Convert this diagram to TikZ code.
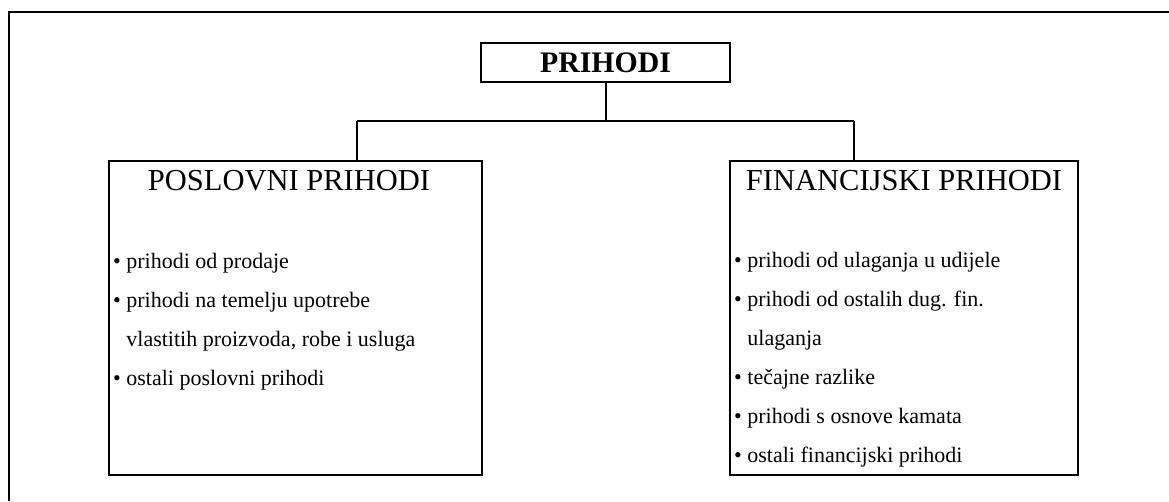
\documentclass[tikz,border=0pt]{standalone}
\usepackage{fontspec}
\setmainfont{Liberation Serif}
\begin{document}
\begin{tikzpicture}[x=1pt,y=-1pt,
  frame/.style={line width=2pt},
  boxstyle/.style={draw,line width=2.2pt,rectangle,inner sep=0pt},
  conn/.style={line width=2pt},
  head/.style={font=\fontsize{30.5}{36}\selectfont,inner sep=0pt,anchor=base},
  listtext/.style={font=\fontsize{22}{39}\selectfont,inner sep=0pt,anchor=base west}]
\useasboundingbox (0,0) rectangle (1169,501);
\draw[frame] (9,501) -- (9,12) -- (1169,12);
% top box
\node[boxstyle,minimum width=249pt,minimum height=39pt] (top) at (605.5,62.5) {};
\node[head,font=\fontsize{29.8}{34}\selectfont\bfseries] (toptext) at (605.5,72) {PRIHODI};
% left box
\node[boxstyle,minimum width=373pt,minimum height=314pt] (pos) at (295.5,318) {};
\node[head] (posh) at (289,190) {POSLOVNI PRIHODI};
\node[listtext] (posl) at (113,268) {\begin{tabular}[t]{@{}l@{}}
• prihodi od prodaje\\
• prihodi na temelju upotrebe\\
\phantom{• }vlastitih proizvoda, robe i usluga\\
• ostali poslovni prihodi
\end{tabular}};
% right box
\node[boxstyle,minimum width=348pt,minimum height=314pt] (fin) at (904,318) {};
\node[head] (finh) at (904,190) {FINANCIJSKI PRIHODI};
\node[listtext] (finl) at (734,267) {\begin{tabular}[t]{@{}l@{}}
• prihodi od ulaganja u udijele\\
• prihodi od ostalih dug. fin.\\
\phantom{• }ulaganja\\
• tečajne razlike\\
• prihodi s osnove kamata\\
• ostali financijski prihodi
\end{tabular}};
% connectors
\coordinate (jl) at (357,121);
\coordinate (jr) at (854,121);
\draw[conn] (top.south) -- (top.south |- jl);
\draw[conn] (jl) -- (jr);
\draw[conn] (jl) -- (jl |- pos.north);
\draw[conn] (jr) -- (jr |- fin.north);
\end{tikzpicture}
\end{document}
